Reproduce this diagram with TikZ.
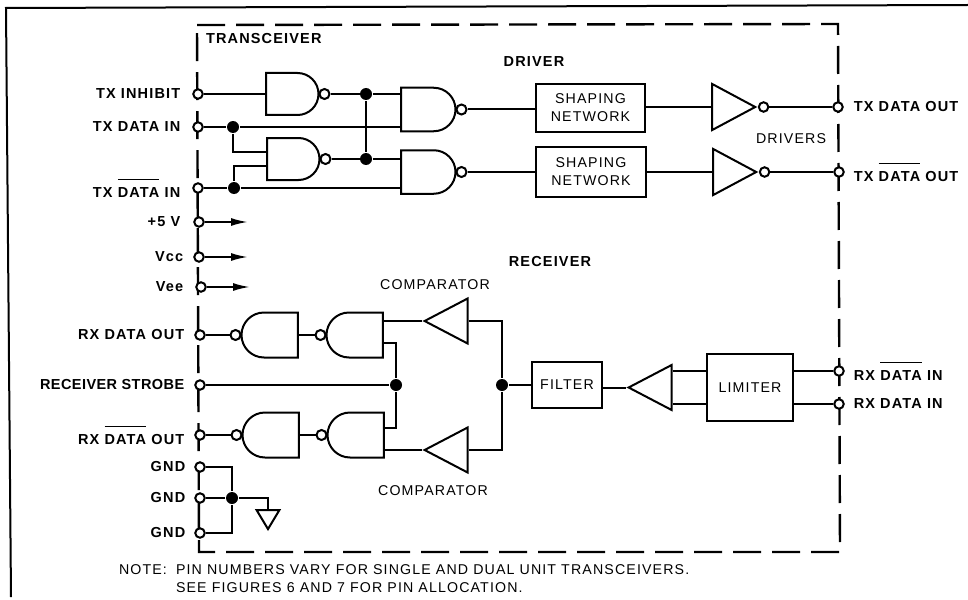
\documentclass[tikz,border=0pt]{standalone}
\usepackage{fontspec}
\setmainfont[LetterSpace=8]{Liberation Sans}
\usetikzlibrary{arrows.meta,shapes.gates.logic.US,shapes.geometric,positioning}
\newcommand{\barred}[1]{$\overline{\hbox{\raisebox{0pt}[17pt]{#1}}}$}
\begin{document}
\begin{tikzpicture}[
  x=1pt,y=-1pt,
  line width=2pt,
  gate/.style={nand gate US,draw,logic gate inputs=nn,inner sep=0pt,aspect=1.2,minimum height=39pt,logic gate inverted radius=5pt},
  tri/.style={isosceles triangle,isosceles triangle stretches,draw,inner sep=0pt},
  inv/.style={tri,minimum height=43pt,minimum width=46pt},
  buf/.style={tri,shape border rotate=180,minimum height=43pt,minimum width=45pt},
  block/.style={draw,align=center,inner sep=0pt,font=\fontsize{14.2}{18}\selectfont},
  pinc/.style={circle,draw,fill=white,inner sep=0pt,minimum size=9.5pt},
  dot/.style={circle,fill=black,inner sep=0pt,minimum size=12pt},
  lab/.style={font=\fontsize{14.2}{15}\selectfont,inner sep=0pt},
  blab/.style={font=\fontsize{14.5}{15}\selectfont\bfseries,inner sep=0pt},
]
  \useasboundingbox (0,0) rectangle (968,599);
  \draw (11,597) -- (6,8) -- (968,5);
  \draw[dash pattern=on 28pt off 11pt,line width=2.4pt] (197,25) -- (838,24) -- (840,552) -- (199,552) -- cycle;

  % driver side
  \node[gate,logic gate input sep=10pt] (g1) at (290.5,94) {};
  \node[gate,logic gate input sep=14.5pt] (g2) at (426.5,109.5) {};
  \node[gate,logic gate input sep=14pt] (g3) at (291.5,159) {};
  \node[gate,logic gate input sep=14.5pt] (g4) at (426.5,172) {};
  \node[block,minimum width=109pt,minimum height=48pt] (sn1) at (590.5,108) {SHAPING\\NETWORK};
  \node[block,minimum width=110pt,minimum height=50pt] (sn2) at (591,172) {SHAPING\\NETWORK};
  \node[inv] (d1) at (726,107) {};
  \node[inv] (d2) at (727,172) {};
  \node[pinc,anchor=west] (b1) at (d1.apex) {};
  \node[pinc,anchor=west] (b2) at (d2.apex) {};

  % receiver side
  \node[gate,rotate=180,logic gate input sep=15pt] (g5) at (271.5,335) {};
  \node[gate,rotate=180,logic gate input sep=15pt] (g6) at (356.5,335) {};
  \node[gate,rotate=180,logic gate input sep=15pt] (g7) at (272.5,435) {};
  \node[gate,rotate=180,logic gate input sep=15pt] (g8) at (357.5,435) {};
  \node[buf] (c1) at (454,321) {};
  \node[buf] (c2) at (454,450) {};
  \node[buf] (c3) at (658,387.5) {};
  \node[block,minimum width=70pt,minimum height=46pt] (flt) at (567,385) {FILTER};
  \node[block,minimum width=86pt,minimum height=67pt] (lim) at (750,387.5) {LIMITER};

  % pins
  \foreach \p/\x/\y in {txi/198/94,txd/198/127,txn/198/188,vp/199/222,vc/199/257,ve/201/287,rxo/200/335,stb/200/385,rxn/200/435,gnd1/200/467,gnd2/200/498,gnd3/200/533,txo/838/107,txb/839/172,rxb/839/371,rxd/839/404}
    \node[pinc] (\p) at (\x,\y) {};

  \node[dot] (j1) at (233,127) {};
  \node[dot] (j2) at (234,188) {};
  \node[dot] (j3) at (366,94) {};
  \node[dot] (j4) at (366,159) {};
  \node[dot] (j5) at (396,385) {};
  \node[dot] (j6) at (502,385) {};
  \node[dot] (j7) at (232,498) {};
  \node[isosceles triangle,isosceles triangle apex angle=62,shape border rotate=-90,draw,inner sep=0pt,minimum height=19pt,anchor=apex] (gtri) at (268,531) {};

  \draw (txi) -- (g1.west);
  \draw (g1.output) -- (g1.output -| j3);
  \draw (j3) -- (j3 -| g2.west);
  \draw (j3) -- (j4);
  \draw (txd) -- (j1);
  \draw (j1) -- (j1 -| g2.west);
  \draw (j1) |- (g3.input 1);
  \draw (j2) |- (g3.input 2);
  \draw (txn) -- (j2);
  \draw (j2) -- (j2 -| g4.west);
  \draw (g3.output) -- (g3.output -| j4);
  \draw (j4) -- (j4 -| g4.west);
  \draw (g2.output) -- (sn1.west |- g2.output);
  \draw (g4.output) -- (sn2.west |- g4.output);
  \draw (sn1.east |- d1.west) -- (d1.west);
  \draw (sn2.east |- d2.west) -- (d2.west);
  \draw (b1) -- (txo);
  \draw (b2) -- (txb);

  \draw (rxo) -- (g5.output);
  \draw (g6.output) -- (g5.west);
  \draw (rxn) -- (g7.output);
  \draw (g8.output) -- (g7.west);
  \draw (stb) -- (j5);
  \draw (g6.input 1) -| (j5);
  \draw (g8.input 2) -| (j5);
  \draw (c1.apex -| g6.west) -- (c1.apex);
  \draw (c2.apex -| g8.west) -- (c2.apex);
  \draw (c1.east) -| (j6);
  \draw (c2.east) -| (j6);
  \draw (j6) -- (flt);
  \draw (flt.east |- c3.apex) -- (c3.apex);
  \draw (c3.east |- rxb) -- (lim.west |- rxb);
  \draw (c3.east |- rxd) -- (lim.west |- rxd);
  \draw (lim.east |- rxb) -- (rxb);
  \draw (lim.east |- rxd) -- (rxd);

  \draw (gnd1) -| (j7);
  \draw (gnd3) -| (j7);
  \draw (gnd2) -- (j7);
  \draw (j7) -| (gtri.north);

  \foreach \p in {vp,vc,ve}{
    \coordinate (\p a) at ([xshift=49pt]\p.center);
    \draw[-{Latex[length=17pt,width=8pt]}] (\p) -- (\p a);
  }

  % labels
  \foreach \p/\t/\d in {txi/TX INHIBIT/11,txd/TX DATA IN/11,txn/{TX \barred{DATA} IN}/11,vp/+5 V/12,vc/Vcc/9,ve/Vee/11,rxo/RX DATA OUT/9,stb/{\addfontfeature{LetterSpace=3}RECEIVER STROBE}/9,rxn/{RX \barred{DATA} OUT}/9,gnd1/GND/8,gnd2/GND/8,gnd3/GND/8}
    \node[blab,left=\d pt of \p] (l\p) {\t};
  \foreach \p/\t/\d in {txo/TX DATA OUT/9,txb/{TX \barred{DATA} OUT}/8,rxb/{RX \barred{DATA} IN}/8,rxd/RX DATA IN/8}
    \node[blab,right=\d pt of \p] (l\p) {\t};

  \node[blab,anchor=west] (ttr) at (205,39) {TRANSCEIVER};
  \node[blab] (tdrv) at (534,62) {DRIVER};
  \node[lab] (tdrs) at (791,139) {DRIVERS};
  \node[blab] (trcv) at (550,262) {RECEIVER};
  \node[lab] (tc1) at (435,285) {COMPARATOR};
  \node[lab] (tc2) at (433,491) {COMPARATOR};
  \node[lab,anchor=west] (tn1) at (118,570) {NOTE:};
  \node[lab,anchor=west] (tn2) at (175,570) {PIN NUMBERS VARY FOR SINGLE AND DUAL UNIT TRANSCEIVERS.};
  \node[lab,anchor=west] (tn3) at (175,588) {SEE FIGURES 6 AND 7 FOR PIN ALLOCATION.};
\end{tikzpicture}
\end{document}
